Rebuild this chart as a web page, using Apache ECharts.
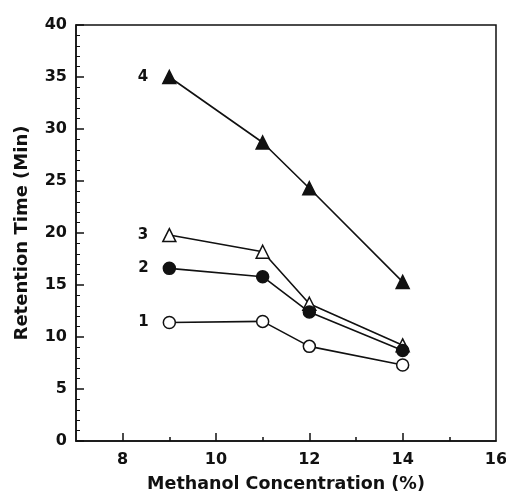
<!DOCTYPE html>
<html><head><meta charset="utf-8">
<script src="https://cdn.jsdelivr.net/npm/echarts@6/dist/echarts.min.js"></script>
<style>html,body{margin:0;padding:0;background:#fff}#c{width:506px;height:494px}</style>
</head><body><div id="c"></div>
<script>
const methanol = [9, 11, 12, 14];
const series1 = [11.4, 11.5, 9.1, 7.3];
const series2 = [16.6, 15.8, 12.4, 8.7];
const series3 = [19.8, 18.2, 13.2, 9.2];
const series4 = [35.0, 28.7, 24.3, 15.3];
const seriesNames = ['1', '2', '3', '4'];
const xLabels = [8, 10, 12, 14, 16];
const xMinor = [9, 11, 13, 15];

const font = 'DejaVu Sans, Liberation Sans, sans-serif';
const chart = echarts.init(document.getElementById('c'));
function mk(name, vals, symbol, filled) {
  return {
    name: name, type: 'line', xAxisIndex: 0,
    data: methanol.map((x, i) => [x, vals[i]]),
    symbol: symbol, symbolSize: symbol === 'triangle' ? 13 : 12,
    lineStyle: {color: '#111', width: 1.6},
    itemStyle: {color: filled ? '#111' : '#fff', borderColor: '#111', borderWidth: 1.5},
    label: {show: true, position: 'left', distance: 14, color: '#111', fontFamily: font, fontWeight: 'bold', fontSize: 15,
      formatter: p => p.dataIndex === 0 ? name : ''},
    animation: false, z: 3
  };
}
chart.setOption({
  backgroundColor: '#fff',
  grid: {left: 76, right: 10, top: 25, bottom: 53, show: true, borderColor: '#111', borderWidth: 1.5,
    containLabel: false, outerBoundsMode: 'none'},
  xAxis: [{
    type: 'value', min: 7, max: 16,
    name: 'Methanol Concentration (%)', nameLocation: 'middle', nameGap: 34,
    nameTextStyle: {fontFamily: font, fontWeight: 'bold', fontSize: 17.5, color: '#111'},
    axisLine: {lineStyle: {color: '#111', width: 1.5}},
    axisTick: {inside: true, length: 8, customValues: [8, 10, 12, 14], lineStyle: {color: '#111', width: 1.5}},
    axisLabel: {customValues: xLabels, fontFamily: font, fontWeight: 'bold', fontSize: 16, color: '#111', margin: 11},
    splitLine: {show: false}
  }, {
    type: 'value', min: 7, max: 16, position: 'bottom',
    axisLine: {show: false},
    axisTick: {inside: true, length: 4, customValues: xMinor, lineStyle: {color: '#111', width: 1.5}},
    axisLabel: {show: false},
    splitLine: {show: false}
  }],
  yAxis: {
    type: 'value', min: 0, max: 40, interval: 5,
    name: 'Retention Time (Min)', nameLocation: 'middle', nameGap: 45,
    nameTextStyle: {fontFamily: font, fontWeight: 'bold', fontSize: 18, color: '#111'},
    axisLine: {show: true, lineStyle: {color: '#111', width: 1.5}},
    axisTick: {inside: true, length: 8, lineStyle: {color: '#111', width: 1.5}},
    minorTick: {show: true, splitNumber: 5, length: 4, lineStyle: {color: '#111', width: 1}},
    axisLabel: {fontFamily: font, fontWeight: 'bold', fontSize: 16, color: '#111', margin: 9},
    splitLine: {show: false}
  },
  series: [
    mk(seriesNames[3], series4, 'triangle', true),
    mk(seriesNames[2], series3, 'triangle', false),
    mk(seriesNames[1], series2, 'circle', true),
    mk(seriesNames[0], series1, 'circle', false)
  ]
});
</script></body></html>
